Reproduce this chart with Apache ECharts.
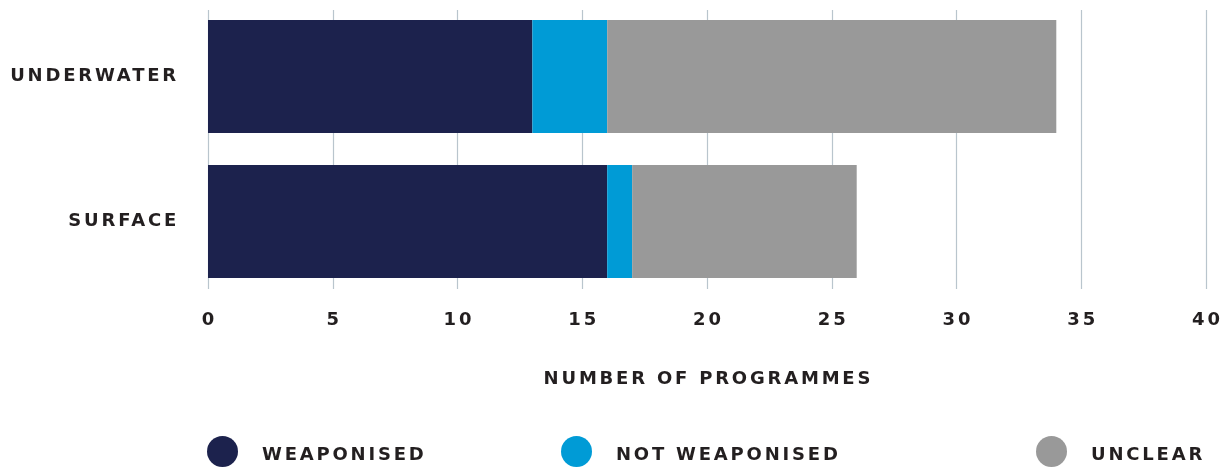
<!DOCTYPE html>
<html>
<head>
<meta charset="utf-8">
<script src="https://cdn.jsdelivr.net/npm/echarts@6/dist/echarts.min.js"></script>
<style>
html,body{margin:0;padding:0;background:#fff;}
#chart{width:1227px;height:468px;}
</style>
</head>
<body>
<div id="chart"></div>
<script>
// ---- data ----
const categories = ['UNDERWATER', 'SURFACE'];
const seriesNames = ['WEAPONISED', 'NOT WEAPONISED', 'UNCLEAR'];
const weaponised = [13, 16];
const notWeaponised = [3, 1];
const unclear = [18, 9];
const axisMin = 0, axisMax = 40, axisStep = 5;
const axisTitle = 'NUMBER OF PROGRAMMES';

// ---- letter spacing for canvas text (tracking as in the reference) ----
const TRACK = 2.8;
(function () {
  const proto = CanvasRenderingContext2D.prototype;
  const desc = Object.getOwnPropertyDescriptor(proto, 'font');
  if (!desc || !('letterSpacing' in proto)) return;
  Object.defineProperty(proto, 'font', {
    configurable: true,
    get() { return desc.get.call(this); },
    set(v) {
      desc.set.call(this, v);
      try { this.letterSpacing = /bold|700/.test(String(v)) ? TRACK + 'px' : '0px'; } catch (e) {}
    }
  });
})();

const colors = ['#1c224d', '#009bd6', '#999999'];
const textColor = '#231f20';
const fontFamily = '"DejaVu Sans", sans-serif';
const baseText = { color: textColor, fontFamily: fontFamily, fontWeight: 'bold', fontSize: 18 };

const chart = echarts.init(document.getElementById('chart'), null, { renderer: 'canvas' });

const values = [weaponised, notWeaponised, unclear];
const legendLefts = [202, 556, 1031];

const option = {
  animation: false,
  backgroundColor: '#ffffff',
  textStyle: { fontFamily: fontFamily },
  grid: [
    { left: 208, width: 998, top: 4, height: 290, containLabel: false },
    { left: 208, width: 998, top: 10, height: 279, containLabel: false }
  ],
  xAxis: [
    { gridIndex: 0, type: 'value', min: axisMin, max: axisMax, interval: axisStep, show: false },
    {
      gridIndex: 1, type: 'value', min: axisMin, max: axisMax, interval: axisStep,
      axisLine: { show: false }, axisTick: { show: false },
      splitLine: { show: true, lineStyle: { color: '#b9c5cd', width: 1.2 } },
      axisLabel: Object.assign({ margin: 21, padding: [0, 0, 0, TRACK] }, baseText),
      name: axisTitle, nameLocation: 'middle', nameGap: 80,
      nameTextStyle: Object.assign({ padding: [0, 0, 0, TRACK] }, baseText)
    }
  ],
  yAxis: [
    {
      gridIndex: 0, type: 'category', data: categories, inverse: true,
      axisLine: { show: false }, axisTick: { show: false }, splitLine: { show: false },
      axisLabel: Object.assign({ margin: 29 }, baseText)
    },
    {
      gridIndex: 1, type: 'category', data: categories, inverse: true, show: false
    }
  ],
  legend: seriesNames.map((n, i) => ({
    data: [n], left: legendLefts[i], top: 431, icon: 'circle',
    itemWidth: 31, itemHeight: 31, selectedMode: false,
    textStyle: Object.assign({ padding: [0, 0, 0, 19], lineHeight: 18, verticalAlign: 'middle' }, baseText),
    formatter: function (name) { return '{t|' + name + '}'; }
  })).map(l => { l.textStyle.rich = { t: Object.assign({ padding: [7, 0, 0, 0] }, baseText) }; return l; }),
  series: seriesNames.map((n, i) => ({
    name: n, type: 'bar', stack: 'total', xAxisIndex: 0, yAxisIndex: 0,
    barWidth: 113, itemStyle: { color: colors[i] },
    emphasis: { disabled: true },
    data: values[i]
  }))
};
chart.setOption(option);
</script>
</body>
</html>
